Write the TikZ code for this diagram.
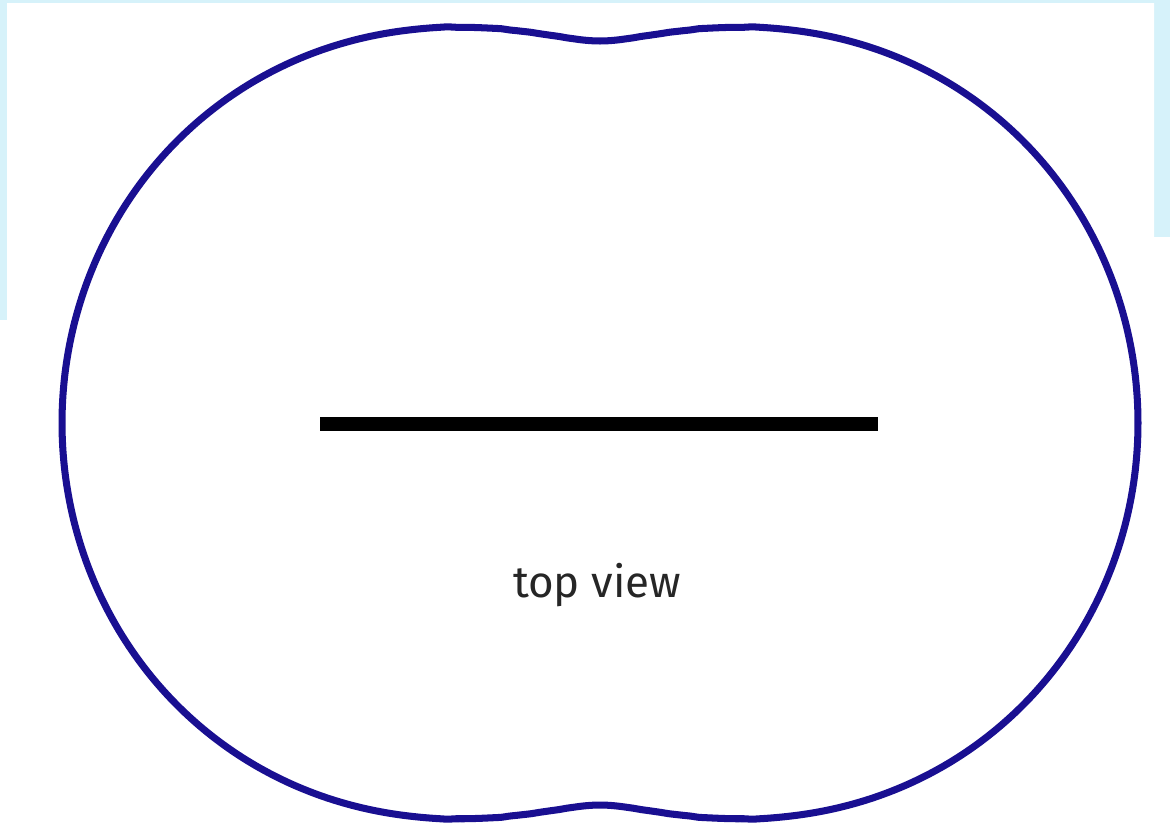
\documentclass[tikz,border=0pt]{standalone}
\usepackage{fontspec}
\setmainfont{Fira Sans}
\usetikzlibrary{positioning}
\definecolor{rimblue}{RGB}{25,15,145}
\definecolor{paneblue}{RGB}{214,242,250}

\begin{document}
\begin{tikzpicture}[
  x=0.02cm, y=-0.02cm,
  declare function={lobe(\t)=382+161.3*(pow(cos(\t)^2+0.0049,0.625)-0.036)
                             +4*sin(2*\t)^2;},
  rim/.style={draw=rimblue,line width=4pt,smooth,samples=361,domain=0:360,variable=\t},
  bar/.style={line width=7.9pt,line cap=butt},
  caption/.style={font=\fontsize{25}{30}\selectfont,text=black!85,inner sep=0pt}
]
\useasboundingbox (0,0) rectangle (1170,823);
\fill[paneblue] (0,0) rectangle (1170,823);
\fill[white] (7,3) -- (1154,3) -- (1154,237) -- (1170,237) -- (1170,823)
  -- (0,823) -- (0,320) -- (7,320) -- cycle;

% pattern seen from above (polar, pinched at 90 and 270 deg)
\coordinate (mid) at (600,423);
\draw[rim,shift={(mid)}] plot ({lobe(\t)*cos(\t)},{lobe(\t)*sin(\t)}) -- cycle;

\coordinate (barl) at (320,424);
\coordinate (barr) at (878,424);
\draw[bar] (barl) -- (barr);

\node[caption,anchor=base] (view) at (597,597) {top view};
\end{tikzpicture}
\end{document}
